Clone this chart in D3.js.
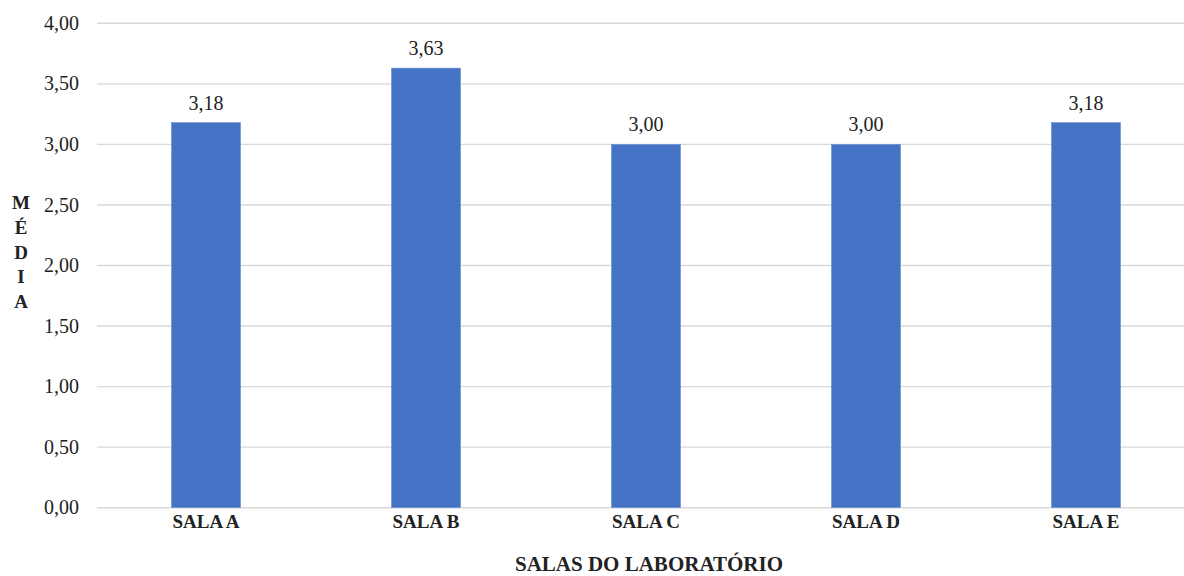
<!DOCTYPE html>
<html>
<head>
<meta charset="utf-8">
<script src="https://cdn.jsdelivr.net/npm/d3@7"></script>
<style>
  html, body { margin: 0; padding: 0; background: #ffffff; }
</style>
</head>
<body>
<svg id="chart" width="1184" height="576"></svg>
<script>
// Average per laboratory room
const categories = ["SALA A", "SALA B", "SALA C", "SALA D", "SALA E"];
const values = [3.18, 3.63, 3.00, 3.00, 3.18];
const yTicks = [0, 0.5, 1, 1.5, 2, 2.5, 3, 3.5, 4];
const yTitle = "MÉDIA";
const xTitle = "SALAS DO LABORATÓRIO";

const W = 1184, H = 576;
const FONT = '"Liberation Serif"';
const svg = d3.select("#chart");

const fmt = v => d3.format(".2f")(v).replace(".", ",");

const x = d3.scaleBand()
  .domain(categories)
  .range([96, 1196])
  .paddingInner(0.686)
  .paddingOuter(0.343);

const y = d3.scaleLinear()
  .domain([0, 4])
  .range([507.7, 23.3]);

// Horizontal gridlines
svg.append("g")
  .selectAll("line")
  .data(yTicks)
  .join("line")
  .attr("x1", 97)
  .attr("x2", W)
  .attr("y1", d => y(d))
  .attr("y2", d => y(d))
  .attr("stroke", "#d9d9d9")
  .attr("stroke-width", 1.4);

// Y tick labels
svg.append("g")
  .selectAll("text")
  .data(yTicks)
  .join("text")
  .style("font-family", FONT)
  .attr("x", 79)
  .attr("y", d => y(d))
  .attr("dy", "0.33em")
  .attr("text-anchor", "end")
  .attr("font-size", 20)
  .attr("fill", "#222")
  .text(d => fmt(d));

// Bars
svg.append("g")
  .selectAll("rect")
  .data(values)
  .join("rect")
  .attr("x", (d, i) => x(categories[i]))
  .attr("width", x.bandwidth())
  .attr("y", d => y(d))
  .attr("height", d => y(0) - y(d))
  .attr("fill", "#4472c4")
  .attr("stroke", "#6f93d6")
  .attr("stroke-width", 0.6);

// Value labels
svg.append("g")
  .selectAll("text")
  .data(values)
  .join("text")
  .style("font-family", FONT)
  .attr("x", (d, i) => x(categories[i]) + x.bandwidth() / 2)
  .attr("y", d => y(d) - 13)
  .attr("text-anchor", "middle")
  .attr("font-size", 20)
  .attr("fill", "#222")
  .text(d => fmt(d));

// Category labels
svg.append("g")
  .selectAll("text")
  .data(categories)
  .join("text")
  .style("font-family", FONT)
  .attr("x", d => x(d) + x.bandwidth() / 2)
  .attr("y", 528)
  .attr("text-anchor", "middle")
  .attr("font-size", 19)
  .attr("font-weight", "bold")
  .attr("fill", "#222")
  .text(d => d);

// X axis title
svg.append("text")
  .style("font-family", FONT)
  .attr("x", 649)
  .attr("y", 571)
  .attr("text-anchor", "middle")
  .attr("font-size", 21)
  .attr("font-weight", "bold")
  .attr("fill", "#222")
  .text(xTitle);

// Y axis title, letters stacked vertically
svg.append("g")
  .selectAll("text")
  .data(Array.from(yTitle))
  .join("text")
  .style("font-family", FONT)
  .attr("x", 21)
  .attr("y", (d, i) => 209 + i * 24.75)
  .attr("text-anchor", "middle")
  .attr("font-size", 19)
  .attr("font-weight", "bold")
  .attr("fill", "#222")
  .text(d => d);
</script>
</body>
</html>
